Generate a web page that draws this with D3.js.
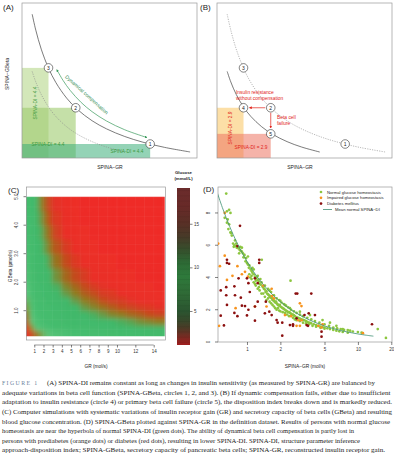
<!DOCTYPE html>
<html>
<head>
<meta charset="utf-8">
<script src="https://cdnjs.cloudflare.com/ajax/libs/d3/7.8.5/d3.min.js"></script>
<style>
body{margin:0;background:#fff}
svg text{font-family:"Liberation Sans",Arial,sans-serif;fill:#222}
svg text.cap{font-family:"Liberation Serif","Times New Roman",serif}
</style>
</head>
<body>
<svg id="fig" width="394" height="453"></svg>
<script>

// ---- panels A/B : schematic (arbitrary units) ----
var diNormal = 4.4
var diLow = 2.9
var circlesNormal = [{id:1, gr:4.2, gb:1.05}, {id:2, gr:2.15, gb:2.05}, {id:3, gr:1.4, gb:3.15}]
var circlesLow = [{id:4, gr:1.4, gb:2.05}, {id:5, gr:2.15, gb:1.33}]
var solidGR = [0.95, 1.05, 1.2, 1.4, 1.6, 1.9, 2.2, 2.6, 3.0, 3.5, 4.0, 4.6, 5.3]
var dottedGR = [0.95, 1.05, 1.2, 1.4, 1.6, 1.9, 2.2, 2.6, 3.0, 3.5]
var arrowGR = [1.63, 1.8, 2.0, 2.3, 2.6, 3.0, 3.5, 4.11]
var arrowDI = 5.05

// ---- panel C : simulated glucose (mmol/L), rows = GBeta bands bottom->top ----
var grEdges = [0.1, 0.5, 1, 1.5, 2, 2.5, 3, 4, 5, 6, 7, 8, 9, 10, 11, 12, 13, 14, 15.2]
var gbEdges = [0.1, 0.3, 0.5, 0.75, 1, 1.25, 1.5, 1.75, 2, 2.5, 3, 3.5, 4, 4.5, 5]
var glucose = [
 [20.7,13.0,10.8,9.5,8.8,8.3,7.8,7.4,7.1,6.8,6.6,6.4,6.3,6.2,6.0,5.9,5.8,5.7],
 [14.8,10.0,8.5,7.8,7.4,7.1,6.7,6.4,6.1,5.9,5.7,5.5,5.4,5.2,5.1,5.0,4.9,4.8],
 [11.8,8.7,7.6,7.1,6.7,6.4,6.1,5.8,5.5,5.3,5.1,4.9,4.8,4.7,4.6,4.4,4.3,4.2],
 [10.6,7.9,7.1,6.6,6.2,5.9,5.7,5.3,5.0,4.9,4.7,4.5,4.3,4.2,4.0,3.9,3.7,3.6],
 [9.6,7.5,6.7,6.2,5.9,5.7,5.3,5.0,4.8,4.5,4.3,4.1,3.9,3.7,3.6,3.4,3.3,3.2],
 [9.0,7.2,6.4,5.9,5.7,5.4,5.0,4.8,4.5,4.2,4.0,3.7,3.5,3.4,3.2,3.1,3.0,2.9],
 [8.6,6.9,6.2,5.8,5.4,5.1,4.9,4.5,4.2,3.9,3.7,3.4,3.3,3.1,3.0,2.9,2.8,2.7],
 [8.3,6.7,6.0,5.6,5.2,5.0,4.7,4.3,4.0,3.7,3.4,3.2,3.0,2.9,2.8,2.7,2.6,2.5],
 [7.8,6.4,5.8,5.3,5.0,4.8,4.4,4.0,3.7,3.4,3.1,3.0,2.8,2.7,2.6,2.5,2.4,2.35],
 [7.5,6.2,5.5,5.0,4.8,4.5,4.1,3.7,3.3,3.0,2.9,2.7,2.55,2.45,2.35,2.3,2.25,2.2],
 [7.2,5.9,5.3,4.9,4.5,4.2,3.8,3.4,3.0,2.8,2.6,2.5,2.4,2.3,2.25,2.2,2.1,2.05],
 [7.0,5.8,5.1,4.7,4.3,4.0,3.5,3.1,2.9,2.6,2.5,2.4,2.3,2.2,2.1,2.05,2.0,2.0],
 [6.8,5.6,4.9,4.5,4.1,3.7,3.3,3.0,2.7,2.5,2.4,2.3,2.2,2.1,2.0,2.0,2.0,2.0],
 [6.7,5.5,4.8,4.3,3.9,3.5,3.2,2.8,2.55,2.4,2.3,2.2,2.1,2.0,2.0,2.0,2.0,2.0]
]
var grTicks = [1,2,3,4,5,6,7,8,9,10,12,14]
var gbTicks = [1,2,3,4,5]
var heatValues = [2, 3.1, 3.7, 4.2, 4.8, 7, 8.6, 10, 12, 15, 22]
var heatColors = ['#ef2a25','#ea2f27','#c4481f','#8f7a1e','#3fb869','#46bd6e','#5cc57c','#8a8a28','#b85a24','#e6342a','#e8302a']
var cbValues = [1.1, 2, 3, 4, 5, 7, 9, 10.5, 12, 13.5, 15, 17, 19.1]
var cbColors = ['#a01e1e','#7a2a22','#4d3a26','#35492b','#2b5530','#2f6a36','#2e7a3b','#2d6a35','#364f2c','#473a28','#583026','#682a28','#6b2c2c']
var cbTicks = [5, 10, 15]

// ---- panel D : SPINA-GR (x) vs SPINA-GBeta (y) ----
var meanDI = 5.0
var meanLineGR = [0.54, 0.6, 0.7, 0.8, 0.9, 1, 1.15, 1.3, 1.5, 1.75, 2, 2.5, 3, 3.5, 4, 5, 6, 7, 8, 10, 12, 13.8]
var normalPts = [
 [0.65,9.2],[0.63,7.7],[0.66,8.1],[0.69,8.2],[0.71,8.0],[0.67,7.6],[0.66,7.4],[0.69,7.3],[0.68,7.0],[0.71,6.8],
 [0.72,6.75],[0.73,6.6],[0.76,5.9],[0.75,6.1],[0.77,6.0],[0.78,6.3],[0.79,5.95],[0.8,6.1],[0.81,5.85],[0.82,5.9],
 [0.84,5.8],[0.86,5.7],[0.88,5.65],[0.85,5.5],[0.9,5.6],[0.92,5.5],[0.95,5.4],[0.93,5.25],[0.98,5.2],[0.97,5.0],
 [0.9,5.85],[0.87,5.9],[1.0,4.9],[1.02,4.8],[1.05,4.75],[1.04,4.6],[1.08,4.5],[1.1,4.4],[1.12,4.3],[1.15,4.2],
 [1.1,4.1],[1.18,4.05],[1.2,3.95],[1.22,4.0],[1.25,3.85],[1.28,3.75],[1.3,3.6],[1.33,3.55],[1.36,5.1],[1.38,3.45],
 [1.4,3.4],[1.42,3.3],[1.45,3.25],[1.47,3.1],[1.05,4.2],[1.1,3.9],[1.15,3.7],[1.2,3.5],[1.25,3.3],[1.3,3.2],
 [1.35,3.0],[1.2,3.8],[1.28,3.4],[1.32,3.9],[1.4,3.0],[1.45,2.8],[1.15,4.5],[1.25,4.1],[1.35,3.7],[1.45,3.5],
 [1.02,5.3],[1.07,4.0],[1.18,3.6],[1.12,4.6],[1.5,3.15],[1.52,3.0],[1.55,2.95],[1.58,2.9],[1.6,2.8],[1.62,2.85],
 [1.65,2.75],[1.68,2.7],[1.7,2.6],[1.72,2.65],[1.75,2.55],[1.78,2.5],[1.8,2.45],[1.83,2.5],[1.85,2.4],[1.88,2.35],
 [1.9,2.3],[1.95,2.25],[1.98,2.3],[2.0,2.2],[2.05,2.15],[2.1,2.1],[2.15,2.05],[2.2,2.0],[2.25,1.95],[2.3,1.9],
 [2.35,1.85],[2.4,1.85],[2.45,1.8],[1.5,2.6],[1.55,2.7],[1.6,2.5],[1.65,2.4],[1.7,2.3],[1.75,2.2],[1.8,2.1],
 [1.85,2.0],[1.9,2.1],[1.95,1.95],[2.0,1.9],[2.1,1.85],[2.2,1.8],[2.3,1.7],[2.4,1.6],[1.55,3.3],[1.65,3.1],
 [1.75,2.9],[1.85,2.7],[1.95,2.6],[2.05,2.45],[2.15,2.35],[2.25,2.25],[2.35,2.15],[2.47,3.8],[1.6,3.2],[2.0,2.55],
 [2.2,2.3],[2.5,1.75],[2.55,1.7],[2.6,1.7],[2.65,1.65],[2.7,1.6],[2.8,1.55],[2.9,1.5],[3.0,1.45],[3.1,1.4],
 [3.2,1.38],[3.3,1.35],[3.4,1.3],[3.5,1.25],[3.6,1.2],[3.7,1.18],[3.8,1.15],[4.0,1.1],[4.2,1.05],[4.4,1.0],
 [4.6,0.95],[4.8,0.92],[5.0,0.9],[5.3,0.85],[5.6,0.8],[2.5,2.0],[2.65,1.9],[2.8,1.8],[3.0,1.7],[3.2,1.6],
 [3.5,1.5],[3.8,1.4],[4.1,1.3],[4.5,1.2],[5.0,1.1],[5.5,1.0],[2.6,1.5],[2.7,1.4],[2.8,1.35],[3.0,1.3],
 [3.2,1.2],[3.4,1.15],[3.6,1.1],[3.9,1.0],[4.2,0.95],[4.6,0.88],[5.0,0.82],[2.44,2.1],[3.0,1.88],[3.7,1.67],
 [4.8,1.36],[5.6,1.2],[6.0,0.75],[6.4,0.7],[6.8,0.66],[7.3,0.62],[8.1,0.58],[6.0,0.9],[6.4,1.0],[6.5,0.85],
 [7.0,0.8],[7.3,0.8],[7.5,0.75],[8.1,0.74],[8.5,0.7],[9.0,0.65],[10,0.62],[10.8,0.58],[15.1,0.8],[17.9,0.25]
]
var impairedPts = [
 [0.63,8.0],[0.55,6.1],[0.63,5.35],[0.57,4.7],[0.82,4.7],[0.66,3.85],[0.74,4.1],[0.96,4.35],[1.02,4.05],[0.9,4.2],
 [1.4,3.5],[0.79,2.1],[1.18,2.2],[1.5,2.2],[1.68,2.85],[2.2,1.67],[1.75,2.7],[1.67,3.3],[3.0,2.4],[2.9,1.35],
 [3.1,1.35],[4.7,0.9],[4.8,1.1],[11.1,0.55],[3.1,2.23],[2.8,1.0],[3.0,1.0],[2.5,1.6],[4.4,1.0],[0.56,1.0]
]
var diabetesPts = [
 [0.865,7.2],[0.82,5.95],[0.66,5.1],[0.66,4.9],[0.69,4.85],[1.29,5.1],[1.29,4.9],[0.84,3.95],[1.0,3.95],[1.18,3.95],
 [1.25,3.65],[0.58,3.2],[0.65,3.4],[0.77,3.45],[1.03,3.65],[0.78,2.9],[0.65,2.9],[0.88,2.75],[1.06,3.1],[0.66,2.3],
 [0.9,2.25],[0.96,2.23],[1.03,2.0],[1.18,2.2],[1.25,2.5],[0.77,1.8],[0.82,1.6],[1.0,1.65],[1.18,1.32],[0.58,1.63],
 [0.62,1.03],[1.45,1.78],[1.59,1.88],[1.85,1.36],[1.89,1.2],[2.08,1.2],[2.08,0.39],[2.44,1.05],[2.6,1.1],[2.84,3.0],
 [1.48,2.5],[1.67,1.67],[2.75,3.0],[4.1,1.67],[4.7,0.33],[13.4,1.1],[3.6,1.78],[3.3,1.67],[3.45,1.05],[3.55,1.0],
 [2.8,1.47],[2.6,1.0],[4.7,0.64],[3.8,3.0]
]
var dTicksX = [1, 2, 5, 10, 20]
var dTicksY = [0, 2, 4, 6, 8]
var legendLabels = ['Normal glucose homeostasis', 'Impaired glucose homeostasis', 'Diabetes mellitus']
var legendColors = ['#8cc63f', '#f7931e', '#8b0f0f']

// ---- caption ----
var captionLines = [
 '(A) SPINA-DI remains constant as long as changes in insulin sensitivity (as measured by SPINA-GR) are balanced by',
 'adequate variations in beta cell function (SPINA-GBeta, circles 1, 2, and 3). (B) If dynamic compensation fails, either due to insufficient',
 'adaptation to insulin resistance (circle 4) or primary beta cell failure (circle 5), the disposition index breaks down and is markedly reduced.',
 '(C) Computer simulations with systematic variations of insulin receptor gain (GR) and secretory capacity of beta cells (GBeta) and resulting',
 'blood glucose concentration. (D) SPINA-GBeta plotted against SPINA-GR in the definition dataset. Results of persons with normal glucose',
 'homeostasis are near the hyperbola of normal SPINA-DI (green dots). The ability of dynamical beta cell compensation is partly lost in',
 'persons with prediabetes (orange dots) or diabetes (red dots), resulting in lower SPINA-DI. SPINA-DI, structure parameter inference',
 'approach-disposition index; SPINA-GBeta, secretory capacity of pancreatic beta cells; SPINA-GR, reconstructed insulin receptor gain.'
]
var captionWidths = [328, 388.5, 390, 390, 388, 352, 358, 383]


var svg = d3.select('#fig')
var defs = svg.append('defs')

function addMarker(id, color)
{
	defs.append('marker')
	.attr('id', id)
	.attr('viewBox', '0 0 10 10')
	.attr('refX', 8)
	.attr('refY', 5)
	.attr('markerWidth', 4)
	.attr('markerHeight', 4)
	.attr('orient', 'auto-start-reverse')
	.append('path')
	.attr('d', 'M0,0 L10,5 L0,10 z')
	.attr('fill', color)
}
addMarker('arrGreen', '#3a9a5c')
addMarker('arrRed', '#e2231a')


function drawCircles(g, x, y, list)
{
	list.forEach(function(c){
		g.append('circle')
		.attr('cx', x(c.gr))
		.attr('cy', y(c.gb))
		.attr('r', 4.3)
		.attr('fill', 'white')
		.attr('stroke', '#333')
		.attr('stroke-width', 0.6)
		g.append('text')
		.attr('x', x(c.gr))
		.attr('y', y(c.gb) + 1.8)
		.attr('text-anchor', 'middle')
		.attr('font-size', 5)
		.text(c.id)
	})
}

function hyperbola(x, y, grs, di)
{
	return d3.line()
	.x(function(d){ return x(d) })
	.y(function(d){ return y(di / d) })
	.curve(d3.curveCatmullRom)(grs)
}

function diRect(g, x, y, c, fill, op)
{
	var x0 = x.range()[0], y0 = y.range()[0]
	g.append('rect')
	.attr('x', x0)
	.attr('y', y(c.gb))
	.attr('width', x(c.gr) - x0)
	.attr('height', y0 - y(c.gb))
	.attr('fill', fill)
	.attr('fill-opacity', op)
}

function frame(g, x0, y0, x1, y1)
{
	g.append('rect')
	.attr('x', x0).attr('y', y0)
	.attr('width', x1 - x0).attr('height', y1 - y0)
	.attr('fill', 'none')
	.attr('stroke', '#999')
	.attr('stroke-width', 0.7)
}


//----------------- panel A
function drawPanelA()
{
	var g = svg.append('g')
	var x = d3.scaleLinear().domain([0.67, 5.49]).range([22, 197])
	var y = d3.scaleLinear().domain([0.664, 4.94]).range([158, 3])

	diRect(g, x, y, circlesNormal[2], '#b5d78a', 0.6)
	diRect(g, x, y, circlesNormal[1], '#9fcb6e', 0.6)
	diRect(g, x, y, circlesNormal[0], '#3cae7a', 0.55)

	frame(g, 22, 3, 197, 158)

	g.append('path')
	.attr('d', hyperbola(x, y, dottedGR, diLow))
	.attr('fill', 'none').attr('stroke', '#888').attr('stroke-width', 0.6)
	.attr('stroke-dasharray', '1.2,1.2')

	g.append('path')
	.attr('d', hyperbola(x, y, solidGR, diNormal))
	.attr('fill', 'none').attr('stroke', '#444').attr('stroke-width', 0.7)

	//dynamic compensation arrow
	g.append('path')
	.attr('d', hyperbola(x, y, arrowGR, arrowDI))
	.attr('fill', 'none').attr('stroke', '#3a9a5c').attr('stroke-width', 0.7)
	.attr('marker-start', 'url(#arrGreen)')
	.attr('marker-end', 'url(#arrGreen)')

	g.append('text')
	.attr('transform', 'translate(' + x(2.42) + ',' + y(5.75 / 2.42) + ') rotate(42)')
	.attr('text-anchor', 'middle')
	.attr('font-size', 5)
	.style('fill', '#2e8b50')
	.text('Dynamical compensation')

	drawCircles(g, x, y, circlesNormal)

	g.append('text')
	.attr('transform', 'translate(37,103) rotate(-90)')
	.attr('text-anchor', 'middle').attr('font-size', 4.8)
	.style('fill', '#3d9a3d')
	.text('SPINA-DI = 4.4')
	g.append('text')
	.attr('x', 48).attr('y', 145.5)
	.attr('text-anchor', 'middle').attr('font-size', 4.8)
	.style('fill', '#3d9a3d')
	.text('SPINA-DI = 4.4')
	g.append('text')
	.attr('x', 127).attr('y', 153)
	.attr('text-anchor', 'middle').attr('font-size', 4.8)
	.style('fill', '#3d9a3d')
	.text('SPINA-DI = 4.4')

	g.append('text').attr('x', 3).attr('y', 10).attr('font-size', 8).text('(A)')
	g.append('text').attr('x', 110).attr('y', 169).attr('text-anchor', 'middle').attr('font-size', 5).text('SPINA\u2212GR')
	g.append('text').attr('transform', 'translate(9,74) rotate(-90)').attr('text-anchor', 'middle').attr('font-size', 5).text('SPINA\u2212GBeta')
}


//----------------- panel B
function drawPanelB()
{
	var g = svg.append('g')
	var x = d3.scaleLinear().domain([0.67, 5.49]).range([217, 392])
	var y = d3.scaleLinear().domain([0.664, 4.94]).range([158, 3])

	diRect(g, x, y, circlesLow[0], '#f9c55e', 0.55)
	diRect(g, x, y, circlesLow[1], '#ec7563', 0.55)

	frame(g, 217, 3, 392, 158)

	g.append('path')
	.attr('d', hyperbola(x, y, solidGR, diNormal))
	.attr('fill', 'none').attr('stroke', '#888').attr('stroke-width', 0.6)
	.attr('stroke-dasharray', '1.2,1.2')

	g.append('path')
	.attr('d', hyperbola(x, y, dottedGR, diLow))
	.attr('fill', 'none').attr('stroke', '#444').attr('stroke-width', 0.7)

	var c2 = circlesNormal[1], c4 = circlesLow[0], c5 = circlesLow[1]
	g.append('line')
	.attr('x1', x(c2.gr) - 5.5).attr('y1', y(c2.gb))
	.attr('x2', x(c4.gr) + 6).attr('y2', y(c4.gb))
	.attr('stroke', '#e2231a').attr('stroke-width', 0.7)
	.attr('marker-end', 'url(#arrRed)')
	g.append('line')
	.attr('x1', x(c2.gr)).attr('y1', y(c2.gb) + 5)
	.attr('x2', x(c5.gr)).attr('y2', y(c5.gb) - 6)
	.attr('stroke', '#e2231a').attr('stroke-width', 0.7)
	.attr('marker-end', 'url(#arrRed)')

	drawCircles(g, x, y, circlesNormal.concat(circlesLow))

	var red = '#e2231a'
	g.append('text').attr('x', 236).attr('y', 94).attr('font-size', 4.9).style('fill', red).text('Insulin resistance')
	g.append('text').attr('x', 236).attr('y', 99.6).attr('font-size', 4.9).style('fill', red).text('without compensation')
	g.append('text').attr('x', 277).attr('y', 119).attr('font-size', 4.9).style('fill', red).text('Beta cell')
	g.append('text').attr('x', 277).attr('y', 124.6).attr('font-size', 4.9).style('fill', red).text('failure')

	g.append('text')
	.attr('transform', 'translate(232,128) rotate(-90)')
	.attr('text-anchor', 'middle').attr('font-size', 4.8)
	.style('fill', red)
	.text('SPINA-DI = 2.9')
	g.append('text')
	.attr('x', 251).attr('y', 148.5)
	.attr('text-anchor', 'middle').attr('font-size', 4.8)
	.style('fill', red)
	.text('SPINA-DI = 2.9')

	g.append('text').attr('x', 200).attr('y', 10).attr('font-size', 8).text('(B)')
	g.append('text').attr('x', 300).attr('y', 169).attr('text-anchor', 'middle').attr('font-size', 5).text('SPINA\u2212GR')
}


//----------------- panel C
function drawPanelC()
{
	var g = svg.append('g')
	var x = d3.scaleLinear().domain([0, 14]).range([25.1, 153.7])
	var y = d3.scaleLinear().domain([0, 5]).range([339.2, 196.7])
	var col = d3.scaleLinear().domain(heatValues).range(heatColors)

	defs.append('clipPath').attr('id', 'heatClip')
	.append('rect')
	.attr('x', x(0.1)).attr('y', y(5))
	.attr('width', x(15.2) - x(0.1)).attr('height', y(0.1) - y(5))

	defs.append('filter').attr('id', 'heatBlur')
	.attr('filterUnits', 'userSpaceOnUse')
	.attr('x', 0).attr('y', 170).attr('width', 200).attr('height', 190)
	.append('feGaussianBlur').attr('stdDeviation', 2.6)

	var heat = g.append('g').attr('clip-path', 'url(#heatClip)')
	.append('g').attr('filter', 'url(#heatBlur)')

	var nc = grEdges.length - 1, nr = gbEdges.length - 1
	for (var j = 0; j < nr; j++)
	for (var i = 0; i < nc; i++)
	{
		var x0 = x(grEdges[i]), x1 = x(grEdges[i + 1])
		var y0 = y(gbEdges[j + 1]), y1 = y(gbEdges[j])
		if (i == 0) x0 -= 10
		if (i == nc - 1) x1 += 10
		if (j == 0) y1 += 10
		if (j == nr - 1) y0 -= 10
		heat.append('rect')
		.attr('x', x0).attr('y', y0)
		.attr('width', x1 - x0).attr('height', y1 - y0)
		.attr('fill', col(glucose[j][i]))
		.attr('stroke', col(glucose[j][i]))
		.attr('stroke-width', 0.6)
	}

	//faint mesh like the original rendering
	var mesh = g.append('g').attr('clip-path', 'url(#heatClip)')
	grTicks.concat([11, 13, 15]).forEach(function(v){
		mesh.append('line').attr('x1', x(v)).attr('x2', x(v)).attr('y1', y(5)).attr('y2', y(0))
		.attr('stroke', 'white').attr('stroke-opacity', 0.08).attr('stroke-width', 0.6)
	})
	d3.range(0.35, 5, 0.33).forEach(function(v){
		mesh.append('line').attr('x1', x(0)).attr('x2', x(15.2)).attr('y1', y(v)).attr('y2', y(v))
		.attr('stroke', 'white').attr('stroke-opacity', 0.08).attr('stroke-width', 0.6)
	})

	frame(g, 26.5, 187, 165.5, 340)

	var ax = g.append('g').attr('transform', 'translate(0,345)')
	.call(d3.axisBottom(x).tickValues(grTicks).tickSize(2.5).tickPadding(2.5))
	ax.select('.domain').remove()
	ax.append('line').attr('x1', x(1)).attr('x2', x(14)).attr('stroke', '#333').attr('stroke-width', 0.5)
	ax.selectAll('line').attr('stroke-width', 0.5)
	ax.selectAll('text').attr('font-size', 4.5).style('fill', '#333')

	var ay = g.append('g').attr('transform', 'translate(26,0)')
	.call(d3.axisLeft(y).tickValues(gbTicks).tickSize(2.5).tickPadding(1.5))
	ay.select('.domain').remove()
	ay.selectAll('line').attr('stroke-width', 0.5)
	ay.selectAll('text')
	.attr('font-size', 4.5).style('fill', '#333')
	.attr('text-anchor', 'middle')
	.attr('dy', 0)
	.attr('transform', function(d){ return 'translate(-8.5,' + y(d) + ') rotate(-90)' })
	.attr('x', 0).attr('y', 0)
	ay.selectAll('.tick').attr('transform', null)
	ay.selectAll('.tick line').attr('transform', function(d){ return 'translate(0,' + y(d) + ')' })

	g.append('text').attr('x', 96).attr('y', 368).attr('text-anchor', 'middle').attr('font-size', 4.8).text('GR (mol/s)')
	g.append('text').attr('transform', 'translate(12,266) rotate(-90)').attr('text-anchor', 'middle').attr('font-size', 4.8).text('GBeta (pmol/s)')
	g.append('text').attr('x', 8).attr('y', 193).attr('font-size', 8).text('(C)')

	//colour bar
	var cb = d3.scaleLinear().domain([1.1, 19.1]).range([345, 188])
	var grad = defs.append('linearGradient').attr('id', 'cbGrad')
	.attr('x1', 0).attr('y1', 1).attr('x2', 0).attr('y2', 0)
	cbValues.forEach(function(v, k){
		grad.append('stop').attr('offset', (v - 1.1) / 18).attr('stop-color', cbColors[k])
	})
	g.append('rect')
	.attr('x', 177).attr('y', cb(19.1))
	.attr('width', 13).attr('height', cb(1.1) - cb(19.1))
	.attr('fill', 'url(#cbGrad)')
	//banding seen on the bar
	d3.range(1.4, 19, 0.6).forEach(function(v){
		g.append('line').attr('x1', 177).attr('x2', 190).attr('y1', cb(v)).attr('y2', cb(v))
		.attr('stroke', 'black').attr('stroke-opacity', 0.12).attr('stroke-width', 0.5)
	})
	var ac = g.append('g').attr('transform', 'translate(190,0)')
	.call(d3.axisRight(cb).tickValues(cbTicks).tickSize(2.5).tickPadding(1.5))
	ac.select('.domain').remove()
	ac.selectAll('line').attr('stroke-width', 0.5)
	ac.selectAll('text').attr('font-size', 4.5).style('fill', '#333')

	g.append('text').attr('x', 183.5).attr('y', 173.5).attr('text-anchor', 'middle')
	.attr('font-size', 4.3).attr('font-weight', 'bold').text('Glucose')
	g.append('text').attr('x', 183.5).attr('y', 179.5).attr('text-anchor', 'middle')
	.attr('font-size', 4.3).attr('font-weight', 'bold').text('(mmol/L)')
}


//----------------- panel D
function drawPanelD()
{
	var g = svg.append('g')
	var x = d3.scaleLog().domain([0.548, 20.3]).range([218, 392])
	var y = d3.scaleLinear().domain([0, 9.61]).range([342, 187])

	frame(g, 218, 187, 392, 342)

	defs.append('clipPath').attr('id', 'dClip')
	.append('rect').attr('x', 218).attr('y', 187).attr('width', 174).attr('height', 155)

	var pts = g.append('g').attr('clip-path', 'url(#dClip)')
	var sets = [normalPts, impairedPts, diabetesPts]
	sets.forEach(function(set, k){
		pts.selectAll(null).data(set).enter()
		.append('circle')
		.attr('cx', function(d){ return x(d[0]) })
		.attr('cy', function(d){ return y(d[1]) })
		.attr('r', 1.35)
		.attr('fill', legendColors[k])
	})

	pts.append('path')
	.attr('d', d3.line()
		.x(function(d){ return x(d) })
		.y(function(d){ return y(meanDI / d) })
		.curve(d3.curveCatmullRom)(meanLineGR))
	.attr('fill', 'none')
	.attr('stroke', '#3e8f72')
	.attr('stroke-width', 0.8)

	var ax = g.append('g').attr('transform', 'translate(0,342)')
	.call(d3.axisBottom(x).tickValues(dTicksX).tickFormat(d3.format('d')).tickSize(3).tickPadding(3))
	ax.select('.domain').remove()
	ax.selectAll('line').attr('stroke-width', 0.5)
	ax.selectAll('text').attr('font-size', 4.5).style('fill', '#333')

	var ay = g.append('g').attr('transform', 'translate(218,0)')
	.call(d3.axisLeft(y).tickValues(dTicksY).tickSize(3))
	ay.select('.domain').remove()
	ay.selectAll('.tick').attr('transform', null)
	ay.selectAll('.tick line').attr('stroke-width', 0.5)
	.attr('transform', function(d){ return 'translate(0,' + y(d) + ')' })
	ay.selectAll('text')
	.attr('font-size', 4.5).style('fill', '#333')
	.attr('text-anchor', 'middle')
	.attr('dy', 0).attr('x', 0).attr('y', 0)
	.attr('transform', function(d){ return 'translate(-8,' + y(d) + ') rotate(-90)' })

	//legend
	legendLabels.forEach(function(lab, k){
		var ly = 192 + k * 5.8
		g.append('circle').attr('cx', 321).attr('cy', ly).attr('r', 1.35).attr('fill', legendColors[k])
		g.append('text').attr('x', 327).attr('y', ly + 1.5).attr('font-size', 4.2).text(lab)
	})
	g.append('line').attr('x1', 323).attr('x2', 332).attr('y1', 209.5).attr('y2', 209.5)
	.attr('stroke', '#3e8f72').attr('stroke-width', 0.8)
	g.append('text').attr('x', 335).attr('y', 211).attr('font-size', 4.2).text('Mean normal SPINA\u2212DI')

	g.append('text').attr('x', 305).attr('y', 368).attr('text-anchor', 'middle').attr('font-size', 4.8).text('SPINA\u2212GR (mol/s)')
	g.append('text').attr('x', 203).attr('y', 192).attr('font-size', 8).text('(D)')
}


//----------------- caption
function drawCaption()
{
	var g = svg.append('g')
	g.append('text')
	.attr('class', 'cap')
	.attr('x', 2).attr('y', 385.3)
	.attr('font-size', 5.8)
	.attr('letter-spacing', 1.4)
	.style('fill', '#6a7f9c')
	.text('FIGURE 1')

	captionLines.forEach(function(line, i){
		g.append('text')
		.attr('class', 'cap')
		.attr('x', i == 0 ? 47 : 2)
		.attr('y', 385.3 + i * 9.55)
		.attr('font-size', 6.5)
		.attr('textLength', captionWidths[i])
		.attr('lengthAdjust', 'spacingAndGlyphs')
		.text(line)
	})
}


drawPanelA()
drawPanelB()
drawPanelC()
drawPanelD()
drawCaption()

</script>
</body>
</html>
